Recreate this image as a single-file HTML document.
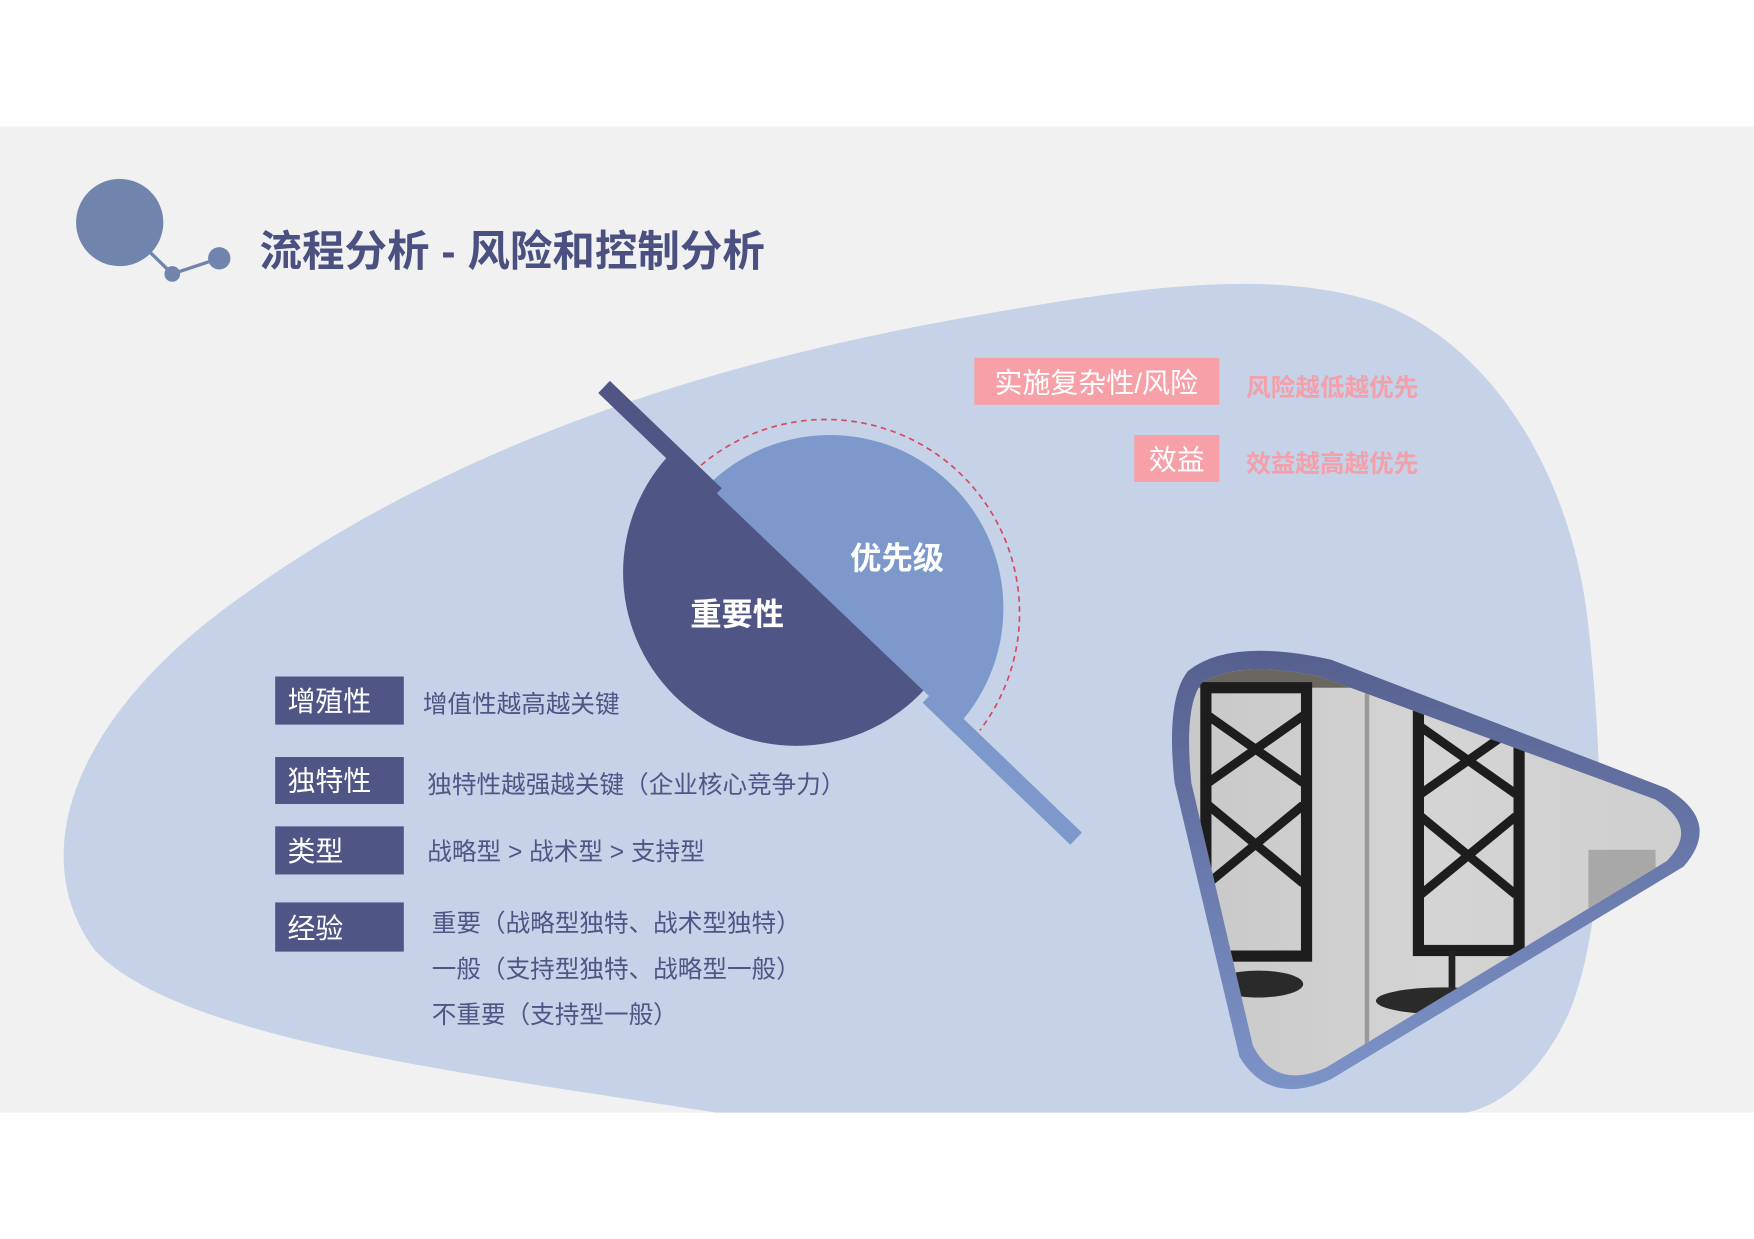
<!DOCTYPE html>
<html><head><meta charset="utf-8"><style>
html,body{margin:0;padding:0;background:#fff;}
svg{display:block;}
text{font-family:"Liberation Sans","Noto Sans CJK SC",sans-serif;}
</style></head><body>
<svg width="1754" height="1239" viewBox="0 0 1568 1108" preserveAspectRatio="none" xmlns="http://www.w3.org/2000/svg">
<defs>
<linearGradient id="bd" x1="0" y1="0" x2="0" y2="1"><stop offset="0" stop-color="#56608f"/><stop offset="1" stop-color="#7d93c8"/></linearGradient>
<linearGradient id="ph" x1="0" y1="0" x2="1" y2="0"><stop offset="0" stop-color="#c8c8c8"/><stop offset="0.5" stop-color="#d4d4d4"/><stop offset="1" stop-color="#cfcfcf"/></linearGradient>
<clipPath id="tri"><path d="M1075,610 Q1110,590 1180,605 L1480,715 Q1520,740 1490,770 L1185,955 Q1140,975 1120,935 L1065,700 Q1058,630 1075,610 Z"/></clipPath>
<clipPath id="lowL"><path d="M400,211 L1100,880 L400,880 Z"/></clipPath>
<clipPath id="upR"><path d="M400,211 L1100,880 L1100,150 L400,150 Z"/></clipPath>
</defs>
<rect x="0" y="113" width="1568" height="882" fill="#f1f1f1"/>
<!-- blob -->
<path d="M640,995 C420,960 160,930 85,850 C25,770 60,650 200,545 C380,410 600,335 820,292 C1000,258 1130,238 1230,270 C1330,305 1405,420 1420,560 C1435,700 1435,820 1405,900 C1380,960 1340,990 1310,995 Z" fill="#c5d2e8"/>
<!-- header -->
<line x1="107" y1="199" x2="154" y2="245" stroke="#7184ad" stroke-width="3"/>
<line x1="154" y1="245" x2="196" y2="231" stroke="#7184ad" stroke-width="3"/>
<circle cx="107" cy="199" r="39" fill="#7184ad"/>
<circle cx="154" cy="245" r="7" fill="#7184ad"/>
<circle cx="196" cy="231" r="10" fill="#7184ad"/>
<text x="232" y="238" font-size="38" font-weight="bold" fill="#4a5080">流程分析 - 风险和控制分析</text>
<!-- circles -->
<circle cx="742" cy="544" r="155" fill="#7d98cb" clip-path="url(#upR)"/>
<circle cx="712" cy="512" r="155" fill="#4f5584" clip-path="url(#lowL)"/>
<!-- dashed arc -->
<path d="M620,422 A173,173 0 0 1 876,653" fill="none" stroke="#d9495e" stroke-width="1.5" stroke-dasharray="5,4"/>
<!-- diagonal -->
<line x1="540" y1="346" x2="640" y2="442" stroke="#4f5584" stroke-width="15"/>
<line x1="830" y1="623" x2="962" y2="750" stroke="#7d98cb" stroke-width="15"/>
<text x="802" y="509" font-size="28" font-weight="bold" fill="#fff" text-anchor="middle">优先级</text>
<text x="659" y="559" font-size="28" font-weight="bold" fill="#fff" text-anchor="middle">重要性</text>
<!-- pink -->
<rect x="871" y="320" width="219" height="42" fill="#f8a0a8"/>
<text x="980" y="351" font-size="25" fill="#fff" text-anchor="middle">实施复杂性/风险</text>
<rect x="1014" y="389" width="76" height="42" fill="#f8a0a8"/>
<text x="1052" y="420" font-size="25" fill="#fff" text-anchor="middle">效益</text>
<text x="1114" y="354" font-size="22" font-weight="bold" fill="#f4a0aa">风险越低越优先</text>
<text x="1114" y="422" font-size="22" font-weight="bold" fill="#f4a0aa">效益越高越优先</text>
<!-- left labels -->
<g fill="#4f5584">
<rect x="246" y="605" width="115" height="43"/>
<rect x="246" y="677" width="115" height="42"/>
<rect x="246" y="739" width="115" height="43"/>
<rect x="246" y="807" width="115" height="44"/>
</g>
<g font-size="25" fill="#fff">
<text x="257" y="636">增殖性</text>
<text x="257" y="707">独特性</text>
<text x="257" y="770">类型</text>
<text x="257" y="839">经验</text>
</g>
<g font-size="22" fill="#4f5584">
<text x="378" y="637">增值性越高越关键</text>
<text x="382" y="709">独特性越强越关键（企业核心竞争力）</text>
<text x="382" y="769">战略型 &gt; 战术型 &gt; 支持型</text>
<text x="386" y="833">重要（战略型独特、战术型独特）</text>
<text x="386" y="874">一般（支持型独特、战略型一般）</text>
<text x="386" y="915">不重要（支持型一般）</text>
</g>
<!-- photo triangle -->
<path d="M1062,600 Q1100,570 1190,590 L1490,705 Q1540,735 1505,775 L1190,965 Q1135,990 1108,945 L1050,700 Q1042,625 1062,600 Z" fill="url(#bd)"/>
<g clip-path="url(#tri)">
<rect x="1050" y="590" width="460" height="400" fill="url(#ph)"/>
<rect x="1050" y="590" width="460" height="25" fill="#6a6660"/>
<rect x="1078" y="615" width="90" height="240" fill="none" stroke="#1d1d1d" stroke-width="10"/>
<path d="M1080,640 L1165,700 M1165,640 L1080,700 M1080,720 L1165,790 M1165,720 L1080,790" stroke="#1d1d1d" stroke-width="8"/>
<rect x="1268" y="630" width="90" height="220" fill="none" stroke="#1d1d1d" stroke-width="10"/>
<path d="M1270,650 L1355,710 M1355,650 L1270,710 M1270,730 L1355,800 M1355,730 L1270,800" stroke="#1d1d1d" stroke-width="8"/>
<rect x="1295" y="850" width="6" height="40" fill="#222"/>
<ellipse cx="1290" cy="895" rx="60" ry="12" fill="#2a2a2a"/>
<ellipse cx="1125" cy="880" rx="40" ry="12" fill="#2a2a2a"/>
<line x1="1222" y1="620" x2="1222" y2="980" stroke="#999" stroke-width="4"/>
<rect x="1420" y="760" width="60" height="80" fill="#a8a8a8"/>
</g>
</svg>
</body></html>
